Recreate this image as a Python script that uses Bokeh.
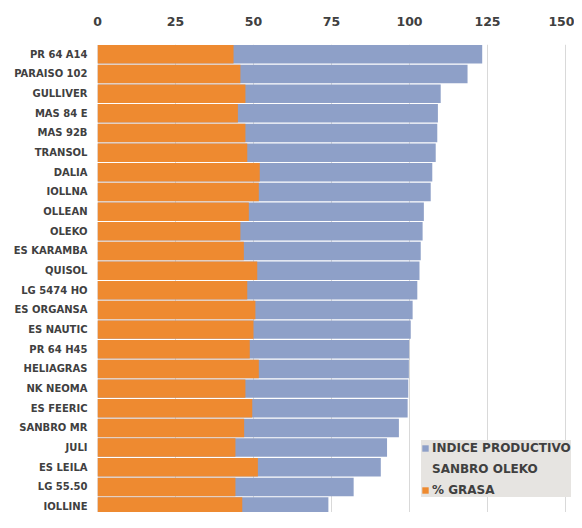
from bokeh.plotting import figure
from bokeh.models import Range1d, FixedTicker, Legend, LegendItem, ColumnDataSource
from bokeh.embed import file_html
from bokeh.resources import INLINE

categories = ["PR 64 A14", "PARAISO 102", "GULLIVER", "MAS 84 E", "MAS 92B", "TRANSOL",
              "DALIA", "IOLLNA", "OLLEAN", "OLEKO", "ES KARAMBA", "QUISOL", "LG 5474 HO",
              "ES ORGANSA", "ES NAUTIC", "PR 64 H45", "HELIAGRAS", "NK NEOMA", "ES FEERIC",
              "SANBRO MR", "JULI", "ES LEILA", "LG 55.50", "IOLLINE"]
indice = [123.3, 118.6, 110.0, 109.1, 108.9, 108.4, 107.3, 106.8, 104.6, 104.2, 103.6, 103.2,
          102.5, 101.0, 100.4, 99.9, 99.8, 99.6, 99.4, 96.6, 92.8, 90.8, 82.1, 74.0]
grasa = [43.6, 45.8, 47.4, 45.0, 47.4, 48.0, 52.0, 51.7, 48.5, 45.8, 46.9, 51.2,
         48.0, 50.6, 50.0, 48.8, 51.7, 47.4, 49.6, 47.0, 44.2, 51.4, 44.2, 46.4]
x_ticks = [0, 25, 50, 75, 100, 125, 150]
legend_lines = ["INDICE PRODUCTIVO", "SANBRO OLEKO", "% GRASA"]

pos = list(range(len(categories)))
src = ColumnDataSource(dict(y=pos, indice=indice, grasa=grasa))

# frame runs to the right edge so the legend can overflow past the 150 gridline
p = figure(width=574, height=512, output_backend="svg", toolbar_location=None,
           x_axis_location="above", x_range=Range1d(0, 152.88),
           y_range=Range1d(23.3, -0.5),
           min_border_left=97, min_border_right=0, min_border_top=44, min_border_bottom=0)

r1 = p.hbar(y="y", left=0, right="indice", height=0.94, source=src,
            fill_color="#8ea0c8", line_color=None)
r2 = p.hbar(y="y", left=0, right="grasa", height=0.94, source=src,
            fill_color="#ee8a30", line_color=None)
# invisible renderer used only to hold the second legend line
r_blank = p.hbar(y="y", left=0, right="grasa", height=0.94, source=src,
                 fill_alpha=0, line_color=None)

p.outline_line_color = None
p.ygrid.grid_line_color = None
p.xgrid.grid_line_color = "#d9d9d9"
p.xgrid.ticker = FixedTicker(ticks=x_ticks)

xa = p.xaxis[0]
xa.ticker = FixedTicker(ticks=x_ticks)
xa.axis_line_color = None
xa.major_tick_line_color = None
xa.minor_tick_line_color = None
xa.major_tick_out = 0
xa.major_tick_in = 0
xa.major_label_text_font = "DejaVu Sans"
xa.major_label_text_font_style = "bold"
xa.major_label_text_font_size = "12.5px"
xa.major_label_text_color = "#404040"
xa.major_label_standoff = 19

ya = p.yaxis[0]
ya.ticker = FixedTicker(ticks=pos)
ya.major_label_overrides = {i: c for i, c in zip(pos, categories)}
ya.axis_line_color = None
ya.major_tick_line_color = None
ya.minor_tick_line_color = None
ya.major_tick_out = 0
ya.major_tick_in = 0
ya.major_label_text_font = "DejaVu Sans"
ya.major_label_text_font_style = "bold"
ya.major_label_text_font_size = "10px"
ya.major_label_text_color = "#404040"
ya.major_label_standoff = 10

legend = Legend(items=[LegendItem(label=legend_lines[0], renderers=[r1]),
                       LegendItem(label=legend_lines[1], renderers=[r_blank]),
                       LegendItem(label=legend_lines[2], renderers=[r2])],
                location=(324, 15), background_fill_color="#e6e4e1", background_fill_alpha=1,
                border_line_color=None, label_text_font="DejaVu Sans",
                label_text_font_style="bold", label_text_font_size="12px",
                label_text_color="#404040", glyph_width=8, glyph_height=8,
                label_height=15, padding=13, spacing=6, label_standoff=3)
p.add_layout(legend, "center")

open("out.html", "w").write(file_html(p, INLINE))
